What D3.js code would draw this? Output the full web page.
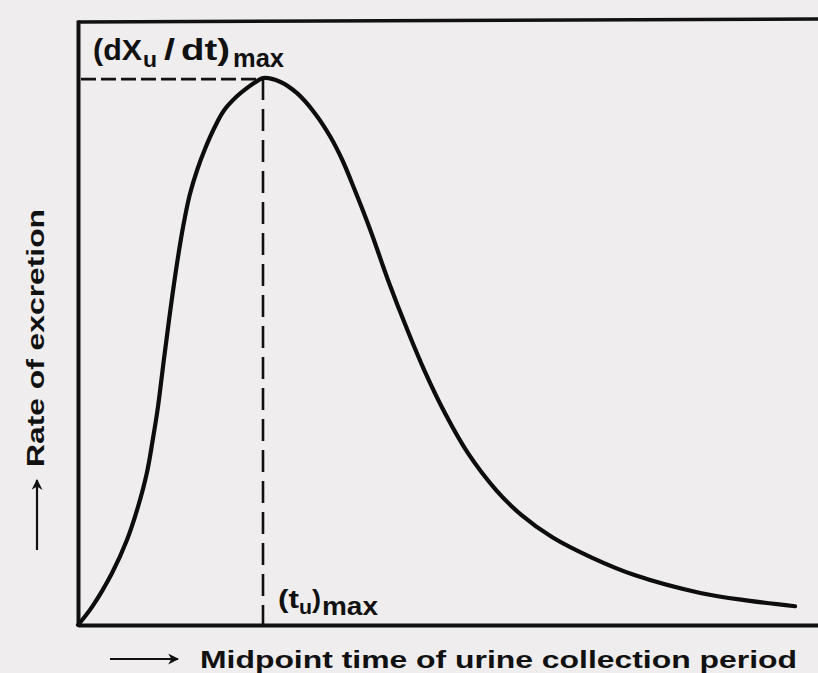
<!DOCTYPE html>
<html>
<head>
<meta charset="utf-8">
<script src="https://cdn.jsdelivr.net/npm/d3@7"></script>
<style>
  html, body { margin: 0; padding: 0; background: #efeded; }
  svg { display: block; }
</style>
</head>
<body>
<svg id="chart" width="818" height="673"></svg>
<script>
// ---- data (arbitrary units) ----
const timeValues = [0, 0.19, 0.46, 0.66, 0.81, 0.93, 1.01, 1.08, 1.16, 1.23, 1.28, 1.35, 1.42, 1.51, 1.61, 1.72, 1.84, 1.97, 2.14, 2.30, 2.42, 2.50, 2.73, 2.96, 3.20, 3.41, 3.57, 3.74, 3.95, 4.19, 4.45, 4.68, 4.96, 5.27, 5.65, 5.99, 6.41, 6.95, 7.51, 8.41, 9.08, 9.69];
const rateValues = [0, 0.30, 0.86, 1.40, 1.95, 2.51, 3.06, 3.60, 4.38, 5.04, 5.49, 6.07, 6.58, 7.11, 7.52, 7.88, 8.21, 8.50, 8.73, 8.89, 8.99, 9.04, 8.98, 8.79, 8.46, 8.07, 7.69, 7.19, 6.53, 5.70, 4.88, 4.21, 3.50, 2.84, 2.23, 1.82, 1.45, 1.11, 0.83, 0.53, 0.40, 0.31];
const tMax = [2.5];
const rateMax = [9.04];
const xDomain = [0, 10];
const yDomain = [0, 10];
const yAxisTitle = "Rate of excretion";
const xAxisTitle = "Midpoint time of urine collection period";

const svg = d3.select("#chart");
const x = d3.scaleLinear().domain(xDomain).range([78, 818]);
const y = d3.scaleLinear().domain(yDomain).range([625, 20]);
const ink = "#111";

// top border of the frame
svg.append("line")
  .attr("x1", x(0)).attr("x2", x(10))
  .attr("y1", y(10) + 2).attr("y2", y(10) - 1)
  .attr("stroke", ink).attr("stroke-width", 3.5);

// axes (no ticks, just the domain lines)
const gx = svg.append("g").attr("transform", `translate(0,${y(0)})`)
  .call(d3.axisBottom(x).tickValues([]).tickSizeOuter(0));
const gy = svg.append("g").attr("transform", `translate(${x(0)},0)`)
  .call(d3.axisLeft(y).tickValues([]).tickSizeOuter(0));
[gx, gy].forEach(g => g.select(".domain").attr("stroke", ink).attr("stroke-width", 4));

// dashed guides
svg.append("line")
  .attr("x1", x(0) + 3).attr("x2", x(tMax[0]))
  .attr("y1", y(rateMax[0]) + 1).attr("y2", y(rateMax[0]) + 1)
  .attr("stroke", ink).attr("stroke-width", 2.6)
  .attr("stroke-dasharray", "15,5");
svg.append("line")
  .attr("x1", x(tMax[0])).attr("x2", x(tMax[0]))
  .attr("y1", y(rateMax[0])).attr("y2", y(0))
  .attr("stroke", ink).attr("stroke-width", 2.6)
  .attr("stroke-dasharray", "22,9");

// curve
const pts = timeValues.map((t, i) => [t, rateValues[i]]);
svg.append("path")
  .datum(pts)
  .attr("fill", "none")
  .attr("stroke", "#0d0d0d")
  .attr("stroke-width", 4.2)
  .attr("stroke-linecap", "round")
  .attr("d", d3.line().x(d => x(d[0])).y(d => y(d[1])).curve(d3.curveCatmullRom.alpha(0.5)));

const font = "'Liberation Sans', Arial, sans-serif";

function piece(parent, txt, px, py, size, len) {
  const t = parent.append("text")
    .attr("x", px).attr("y", py)
    .attr("font-family", font).attr("font-size", size).attr("font-weight", "bold").attr("fill", ink)
    .text(txt);
  if (len) t.attr("textLength", len).attr("lengthAdjust", "spacingAndGlyphs");
  return t;
}
// (dXu / dt)max label
const lab1 = svg.append("g");
piece(lab1, "(dX", 93, 60, 29, 49);
piece(lab1, "u", 143, 67, 22, 14);
piece(lab1, "/", 164, 60, 29, 11);
piece(lab1, "dt)", 181, 60, 29, 49);
piece(lab1, "max", 233, 67, 26, 51);

// (tu)max label
const lab2 = svg.append("g");
piece(lab2, "(t", 278, 608, 25, 21);
piece(lab2, "u", 299, 614, 20, 13);
piece(lab2, ")", 312, 608, 25, 9);
piece(lab2, "max", 322, 615, 25, 56);

// arrow marker
svg.append("defs").append("marker")
  .attr("id", "ah").attr("viewBox", "0 0 10 10")
  .attr("refX", 9).attr("refY", 5)
  .attr("markerWidth", 5).attr("markerHeight", 5)
  .attr("orient", "auto")
  .append("path").attr("d", "M0,0 L10,5 L0,10 L3,5 z").attr("fill", ink);

// x-axis title with arrow
svg.append("line")
  .attr("x1", 110).attr("x2", 178).attr("y1", 659).attr("y2", 659)
  .attr("stroke", ink).attr("stroke-width", 2.2).attr("marker-end", "url(#ah)");
svg.append("text")
  .attr("x", 200).attr("y", 668)
  .attr("font-family", font).attr("font-size", 23).attr("font-weight", "bold").attr("fill", ink)
  .attr("textLength", 597).attr("lengthAdjust", "spacingAndGlyphs")
  .text(xAxisTitle);

// y-axis title with arrow
svg.append("line")
  .attr("x1", 37).attr("x2", 37).attr("y1", 550).attr("y2", 480)
  .attr("stroke", ink).attr("stroke-width", 2.2).attr("marker-end", "url(#ah)");
svg.append("text")
  .attr("transform", "translate(44,467) rotate(-90)")
  .attr("font-family", font).attr("font-size", 23).attr("font-weight", "bold").attr("fill", ink)
  .attr("textLength", 258).attr("lengthAdjust", "spacingAndGlyphs")
  .text(yAxisTitle);
</script>
</body>
</html>
